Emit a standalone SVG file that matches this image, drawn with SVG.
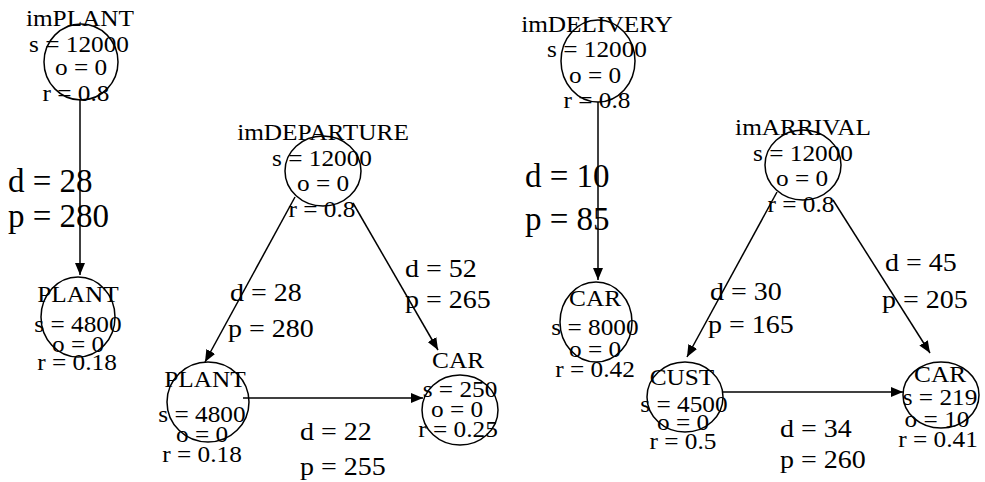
<svg xmlns="http://www.w3.org/2000/svg" width="985" height="482" viewBox="0 0 985 482">
<defs>
<marker id="ah" markerUnits="userSpaceOnUse" markerWidth="12" markerHeight="10" refX="12" refY="5" orient="auto">
<path d="M0,0 L12,5 L0,10 z" fill="#000"/>
</marker>
<style>
.n ellipse{fill:none;stroke:#000;stroke-width:1.5}
text{font-family:"Liberation Serif","Times New Roman",serif;fill:#000}
.n text{font-size:23px;text-anchor:middle}
.e text{font-size:25px}
.e text.big{font-size:33px}
.e line{stroke:#000;stroke-width:1.5;marker-end:url(#ah)}
</style>
</defs>
<rect width="985" height="482" fill="#fff"/>
<g id="connectors" class="e">
<line x1="80" y1="99" x2="80" y2="275"/>
<line x1="295" y1="197" x2="205" y2="362"/>
<line x1="353" y1="203" x2="438" y2="350"/>
<line x1="243" y1="398" x2="423" y2="398"/>
<line x1="598" y1="102" x2="598" y2="280"/>
<line x1="777" y1="192" x2="687" y2="357"/>
<line x1="833" y1="200" x2="930" y2="353"/>
<line x1="723" y1="392" x2="903" y2="392"/>
<text class="big" x="8" y="192">d = 28</text>
<text class="big" x="8" y="227">p = 280</text>
<text transform="translate(230,301) scale(1.12,1)">d = 28</text>
<text transform="translate(228,337) scale(1.12,1)">p = 280</text>
<text transform="translate(405,277) scale(1.12,1)">d = 52</text>
<text transform="translate(405,308) scale(1.12,1)">p = 265</text>
<text transform="translate(300,440) scale(1.12,1)">d = 22</text>
<text transform="translate(300,475) scale(1.12,1)">p = 255</text>
<text class="big" x="525" y="187">d = 10</text>
<text class="big" x="525" y="230">p = 85</text>
<text transform="translate(710,300) scale(1.12,1)">d = 30</text>
<text transform="translate(708,333) scale(1.12,1)">p = 165</text>
<text transform="translate(885,271) scale(1.12,1)">d = 45</text>
<text transform="translate(882,308) scale(1.12,1)">p = 205</text>
<text transform="translate(780,437) scale(1.12,1)">d = 34</text>
<text transform="translate(780,468) scale(1.12,1)">p = 260</text>
</g>
<g id="imPLANT" class="n">
<ellipse cx="81" cy="62" rx="37" ry="38"/>
<text transform="translate(80,26) scale(1.1,1)">imPLANT</text>
<text transform="translate(79,52) scale(1.1,1)">s = 12000</text>
<text transform="translate(81,75) scale(1.1,1)">o = 0</text>
<text transform="translate(76,101) scale(1.1,1)">r = 0.8</text>
</g>
<g id="PLANT1" class="n">
<ellipse cx="78" cy="317" rx="37" ry="40"/>
<text transform="translate(78,302) scale(1.1,1)">PLANT</text>
<text transform="translate(78,332) scale(1.1,1)">s = 4800</text>
<text transform="translate(78,352) scale(1.1,1)">o = 0</text>
<text transform="translate(77,370) scale(1.1,1)">r = 0.18</text>
</g>
<g id="imDEPARTURE" class="n">
<ellipse cx="323" cy="171" rx="38" ry="35"/>
<text transform="translate(323,140) scale(1.1,1)">imDEPARTURE</text>
<text transform="translate(322,166) scale(1.1,1)">s = 12000</text>
<text transform="translate(323,191) scale(1.1,1)">o = 0</text>
<text transform="translate(322,217) scale(1.1,1)">r = 0.8</text>
</g>
<g id="PLANT2" class="n">
<ellipse cx="208" cy="402" rx="41" ry="40"/>
<text transform="translate(205,387) scale(1.1,1)">PLANT</text>
<text transform="translate(202,422) scale(1.1,1)">s = 4800</text>
<text transform="translate(202,442) scale(1.1,1)">o = 0</text>
<text transform="translate(202,462) scale(1.1,1)">r = 0.18</text>
</g>
<g id="CAR1" class="n">
<ellipse cx="460" cy="410" rx="38" ry="35"/>
<text transform="translate(458,368) scale(1.1,1)">CAR</text>
<text transform="translate(460,397) scale(1.1,1)">s = 250</text>
<text transform="translate(457,417) scale(1.1,1)">o = 0</text>
<text transform="translate(458,437) scale(1.1,1)">r = 0.25</text>
</g>
<g id="imDELIVERY" class="n">
<ellipse cx="598" cy="61" rx="37" ry="41"/>
<text transform="translate(597,32) scale(1.1,1)">imDELIVERY</text>
<text transform="translate(597,57) scale(1.1,1)">s = 12000</text>
<text transform="translate(595,83) scale(1.1,1)">o = 0</text>
<text transform="translate(597,108) scale(1.1,1)">r = 0.8</text>
</g>
<g id="CAR2" class="n">
<ellipse cx="596" cy="322" rx="36" ry="40"/>
<text transform="translate(595,306) scale(1.1,1)">CAR</text>
<text transform="translate(595,335) scale(1.1,1)">s = 8000</text>
<text transform="translate(595,357) scale(1.1,1)">o = 0</text>
<text transform="translate(595,377) scale(1.1,1)">r = 0.42</text>
</g>
<g id="imARRIVAL" class="n">
<ellipse cx="803" cy="165" rx="38" ry="35"/>
<text transform="translate(803,135) scale(1.1,1)">imARRIVAL</text>
<text transform="translate(803,161) scale(1.1,1)">s = 12000</text>
<text transform="translate(802,186) scale(1.1,1)">o = 0</text>
<text transform="translate(801,212) scale(1.1,1)">r = 0.8</text>
</g>
<g id="CUST" class="n">
<ellipse cx="685" cy="397" rx="38" ry="35"/>
<text transform="translate(682,385) scale(1.1,1)">CUST</text>
<text transform="translate(684,412) scale(1.1,1)">s = 4500</text>
<text transform="translate(683,430) scale(1.1,1)">o = 0</text>
<text transform="translate(683,449) scale(1.1,1)">r = 0.5</text>
</g>
<g id="CAR3" class="n">
<ellipse cx="941" cy="395" rx="38" ry="33"/>
<text transform="translate(940,382) scale(1.1,1)">CAR</text>
<text transform="translate(940,405) scale(1.1,1)">s = 219</text>
<text transform="translate(937,427) scale(1.1,1)">o = 10</text>
<text transform="translate(938,447) scale(1.1,1)">r = 0.41</text>
</g>
</svg>
